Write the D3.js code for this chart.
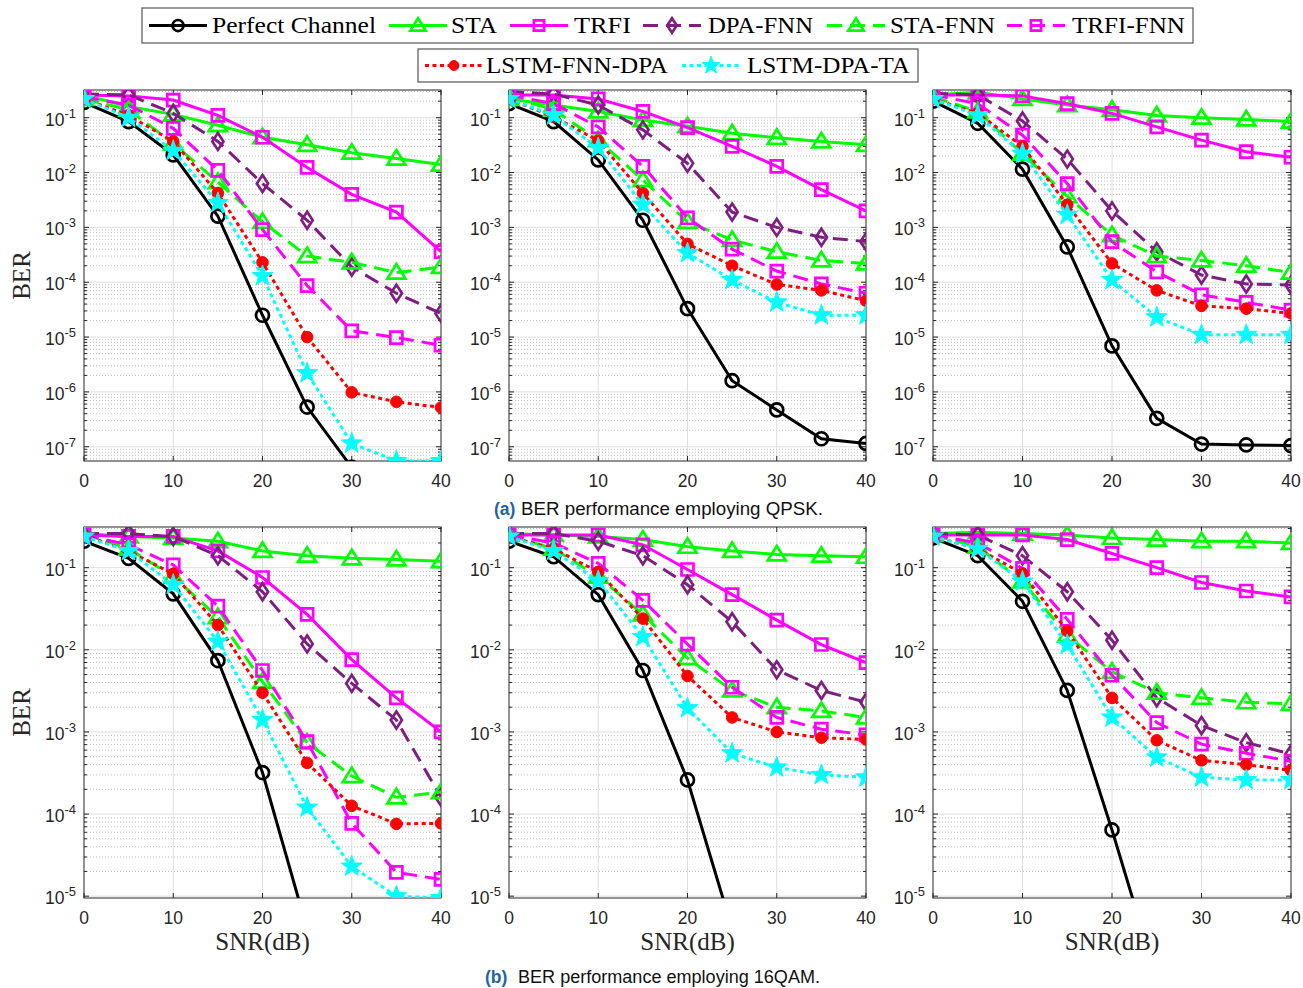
<!DOCTYPE html>
<html>
<head>
<meta charset="utf-8">
<script src="https://cdn.jsdelivr.net/npm/d3@7"></script>
<style>
  body { margin: 0; background: #fff; }
</style>
</head>
<body>
<div id="main"></div>
<script>
// SNR axis values (dB)
const snr = [0, 5, 10, 15, 20, 25, 30, 35, 40];
const xTicks = [0, 10, 20, 30, 40];

// series in legend order
const seriesNames = ['Perfect Channel', 'STA', 'TRFI', 'DPA-FNN', 'STA-FNN', 'TRFI-FNN', 'LSTM-FNN-DPA', 'LSTM-DPA-TA'];

// BER values, one row per series (same order as seriesNames), null = off the chart
const qpskBer1 = [
  [0.19, 0.085, 0.021, 1.6e-3, 2.5e-5, 5.3e-7, 4.2e-8, null, null],
  [0.26, 0.16, 0.115, 0.073, 0.044, 0.032, 0.023, 0.018, 0.014],
  [0.26, 0.25, 0.21, 0.11, 0.044, 0.0124, 0.004, 0.0019, 3.6e-4],
  [0.27, 0.26, 0.12, 0.037, 6.3e-3, 1.35e-3, 1.9e-4, 6.3e-5, 2.7e-5],
  [0.22, 0.14, 0.034, 6.7e-3, 1.26e-3, 3.0e-4, 2.3e-4, 1.5e-4, 1.9e-4],
  [0.24, 0.17, 0.064, 0.011, 9.1e-4, 8.7e-5, 1.3e-5, 9.8e-6, 7.1e-6],
  [0.22, 0.11, 0.037, 4.2e-3, 2.3e-4, 1.0e-5, 9.8e-7, 6.6e-7, 5.2e-7],
  [0.22, 0.10, 0.025, 2.8e-3, 1.3e-4, 2.2e-6, 1.15e-7, 5.5e-8, 5.5e-8]
];
const qpskBer2 = [
  [0.18, 0.085, 0.017, 1.35e-3, 3.3e-5, 1.6e-6, 4.7e-7, 1.4e-7, 1.15e-7],
  [0.22, 0.17, 0.13, 0.091, 0.07, 0.052, 0.043, 0.037, 0.032],
  [0.26, 0.26, 0.22, 0.13, 0.066, 0.030, 0.013, 4.9e-3, 2.0e-3],
  [0.30, 0.27, 0.17, 0.06, 0.0147, 1.9e-3, 1.0e-3, 6.6e-4, 5.5e-4],
  [0.24, 0.14, 0.039, 7.3e-3, 1.26e-3, 5.9e-4, 3.6e-4, 2.5e-4, 2.2e-4],
  [0.26, 0.18, 0.068, 0.013, 1.5e-3, 4.0e-4, 1.6e-4, 9.3e-5, 6.3e-5],
  [0.22, 0.104, 0.038, 4.2e-3, 5.0e-4, 2.0e-4, 9.1e-5, 7.1e-5, 4.6e-5],
  [0.22, 0.11, 0.028, 2.6e-3, 3.4e-4, 1.1e-4, 4.3e-5, 2.5e-5, 2.5e-5]
];
const qpskBer3 = [
  [0.2, 0.079, 0.0115, 4.4e-4, 6.9e-6, 3.3e-7, 1.12e-7, 1.08e-7, 1.05e-7],
  [0.26, 0.29, 0.22, 0.17, 0.14, 0.11, 0.10, 0.093, 0.085],
  [0.26, 0.26, 0.25, 0.18, 0.12, 0.068, 0.039, 0.024, 0.019],
  [0.28, 0.26, 0.087, 0.0176, 2.0e-3, 3.6e-4, 1.35e-4, 9.3e-5, 8.9e-5],
  [0.24, 0.13, 0.022, 3.7e-3, 7.2e-4, 3.0e-4, 2.5e-4, 2.0e-4, 1.5e-4],
  [0.26, 0.18, 0.048, 6.3e-3, 5.5e-4, 1.55e-4, 5.9e-5, 4.3e-5, 3.1e-5],
  [0.22, 0.12, 0.030, 2.6e-3, 2.2e-4, 7.1e-5, 3.7e-5, 3.3e-5, 2.7e-5],
  [0.22, 0.11, 0.022, 1.7e-3, 1.1e-4, 2.3e-5, 1.1e-5, 1.1e-5, 1.1e-5]
];
const qamBer1 = [
  [0.21, 0.13, 0.048, 7.4e-3, 3.2e-4, 4e-6, null, null, null],
  [0.26, 0.24, 0.23, 0.21, 0.16, 0.14, 0.13, 0.126, 0.12],
  [0.25, 0.24, 0.24, 0.16, 0.076, 0.027, 7.6e-3, 2.6e-3, 1.0e-3],
  [0.26, 0.26, 0.24, 0.14, 0.051, 0.0118, 3.9e-3, 1.4e-3, 1.6e-4],
  [0.26, 0.17, 0.078, 0.025, 4.1e-3, 7.4e-4, 2.9e-4, 1.6e-4, 1.85e-4],
  [0.25, 0.19, 0.108, 0.034, 5.6e-3, 7.6e-4, 7.7e-5, 1.95e-5, 1.6e-5],
  [0.25, 0.16, 0.084, 0.020, 3.0e-3, 4.2e-4, 1.26e-4, 7.6e-5, 7.7e-5],
  [0.24, 0.16, 0.062, 0.0126, 1.4e-3, 1.2e-4, 2.3e-5, 1.0e-5, 9.5e-6]
];
const qamBer2 = [
  [0.21, 0.136, 0.047, 5.6e-3, 2.6e-4, 4e-6, null, null, null],
  [0.26, 0.25, 0.24, 0.22, 0.18, 0.16, 0.145, 0.14, 0.136],
  [0.25, 0.25, 0.25, 0.19, 0.095, 0.047, 0.023, 0.0116, 7.0e-3],
  [0.26, 0.26, 0.21, 0.14, 0.062, 0.022, 5.7e-3, 3.2e-3, 2.3e-3],
  [0.25, 0.17, 0.078, 0.027, 7.9e-3, 3.2e-3, 2.0e-3, 1.8e-3, 1.5e-3],
  [0.25, 0.2, 0.113, 0.040, 0.0117, 3.5e-3, 1.5e-3, 1.08e-3, 9.2e-4],
  [0.24, 0.17, 0.089, 0.024, 4.8e-3, 1.5e-3, 1.0e-3, 8.5e-4, 8.1e-4],
  [0.24, 0.16, 0.069, 0.0144, 1.95e-3, 5.5e-4, 3.7e-4, 3.0e-4, 2.8e-4]
];
const qamBer3 = [
  [0.23, 0.14, 0.039, 3.2e-3, 6.4e-5, 1e-6, null, null, null],
  [0.26, 0.27, 0.26, 0.25, 0.23, 0.22, 0.21, 0.21, 0.20],
  [0.25, 0.25, 0.25, 0.22, 0.149, 0.10, 0.066, 0.052, 0.044],
  [0.26, 0.25, 0.14, 0.051, 0.0131, 2.6e-3, 1.2e-3, 7.4e-4, 5.4e-4],
  [0.25, 0.18, 0.068, 0.015, 5.4e-3, 3.0e-3, 2.6e-3, 2.3e-3, 2.2e-3],
  [0.25, 0.2, 0.098, 0.0235, 4.9e-3, 1.3e-3, 7.1e-4, 5.5e-4, 4.4e-4],
  [0.24, 0.17, 0.085, 0.017, 2.6e-3, 7.9e-4, 4.5e-4, 4.0e-4, 3.4e-4],
  [0.24, 0.17, 0.068, 0.0115, 1.5e-3, 4.9e-4, 2.8e-4, 2.6e-4, 2.6e-4]
];

// series styles
const seriesColor = ['#000000', '#00ff00', '#ff00ff', '#7e1e80', '#00ff00', '#ff00ff', '#ff0000', '#00ffff'];
const seriesMarker = ['o', '^', 's', 'd', '^', 's', '.', 'p'];
const seriesDash = [null, null, null, '15,8', '15,8', '15,8', '4,3.5', '4,3.5'];

const axisColor = '#262626';
const serif = '"Liberation Serif", "Times New Roman", serif';
const sans = '"Liberation Sans", Arial, sans-serif';

const svg = d3.select('#main').append('svg')
  .attr('width', 1303)
  .attr('height', 988)
  .style('display', 'block');

// marker outline centred on the point
function markerPath(type, s) {
  if (type === 'o' || type === '.') {
    const r = (type === 'o' ? 6.5 : 5.8) * s;
    return `M${r},0A${r},${r} 0 1,1 ${-r},0A${r},${r} 0 1,1 ${r},0Z`;
  }
  if (type === '^') return `M0,${-8.5 * s}L${9 * s},${6 * s}L${-9 * s},${6 * s}Z`;
  if (type === 's') return `M${-6 * s},${-6 * s}h${12 * s}v${12 * s}h${-12 * s}Z`;
  if (type === 'd') return `M0,${-8.5 * s}L${5.6 * s},0L0,${8.5 * s}L${-5.6 * s},0Z`;
  // pentagram
  const pts = [];
  for (let i = 0; i < 10; i++) {
    const rad = (i % 2 === 0 ? 11 : 4.4) * s;
    const a = -Math.PI / 2 + i * Math.PI / 5;
    pts.push([rad * Math.cos(a), rad * Math.sin(a)]);
  }
  return 'M' + pts.map(p => p.join(',')).join('L') + 'Z';
}

function styleMarker(sel, i) {
  const filled = seriesMarker[i] === '.' || seriesMarker[i] === 'p';
  sel.attr('fill', filled ? seriesColor[i] : 'none')
    .attr('stroke', seriesColor[i])
    .attr('stroke-width', filled ? 1 : 2.7)
    .attr('stroke-linejoin', 'miter');
}

// one subplot
function drawPanel(id, data, xr, yr, yDomain) {
  const x = d3.scaleLinear().domain([0, 40]).range(xr);
  const y = d3.scaleLog().domain(yDomain).range([yr[1], yr[0]]);
  const g = svg.append('g');

  g.append('clipPath').attr('id', id)
    .append('rect')
    .attr('x', xr[0]).attr('y', yr[0])
    .attr('width', xr[1] - xr[0]).attr('height', yr[1] - yr[0]);

  const lo = Math.floor(Math.log10(yDomain[0]));
  const hi = Math.ceil(Math.log10(yDomain[1]));
  const decades = d3.range(lo, hi + 1).map(k => Math.pow(10, k)).filter(v => v >= yDomain[0] && v <= yDomain[1]);
  const minors = [];
  d3.range(lo, hi).forEach(k => {
    for (let m = 2; m <= 9; m++) {
      const v = m * Math.pow(10, k);
      if (v >= yDomain[0] && v <= yDomain[1]) minors.push(v);
    }
  });

  // minor grid (dotted)
  g.append('g').selectAll('line').data(minors).join('line')
    .attr('x1', xr[0]).attr('x2', xr[1])
    .attr('y1', d => y(d)).attr('y2', d => y(d))
    .attr('stroke', '#c0c0c0').attr('stroke-width', 1)
    .attr('stroke-dasharray', '1,2');
  // major grid
  g.append('g').selectAll('line').data(decades).join('line')
    .attr('x1', xr[0]).attr('x2', xr[1])
    .attr('y1', d => y(d)).attr('y2', d => y(d))
    .attr('stroke', '#dedede').attr('stroke-width', 1);
  g.append('g').selectAll('line').data(xTicks.slice(1, -1)).join('line')
    .attr('x1', d => x(d)).attr('x2', d => x(d))
    .attr('y1', yr[0]).attr('y2', yr[1])
    .attr('stroke', '#dedede').attr('stroke-width', 1);

  // axes box + inner ticks
  const axes = g.append('g').attr('stroke', axisColor).attr('stroke-width', 1);
  axes.append('rect')
    .attr('x', xr[0]).attr('y', yr[0])
    .attr('width', xr[1] - xr[0]).attr('height', yr[1] - yr[0])
    .attr('fill', 'none');
  xTicks.forEach(t => {
    axes.append('line').attr('x1', x(t)).attr('x2', x(t)).attr('y1', yr[1]).attr('y2', yr[1] - 5);
    axes.append('line').attr('x1', x(t)).attr('x2', x(t)).attr('y1', yr[0]).attr('y2', yr[0] + 5);
  });
  decades.forEach(v => {
    axes.append('line').attr('x1', xr[0]).attr('x2', xr[0] + 5).attr('y1', y(v)).attr('y2', y(v));
    axes.append('line').attr('x1', xr[1]).attr('x2', xr[1] - 5).attr('y1', y(v)).attr('y2', y(v));
  });
  minors.forEach(v => {
    axes.append('line').attr('x1', xr[0]).attr('x2', xr[0] + 3).attr('y1', y(v)).attr('y2', y(v));
    axes.append('line').attr('x1', xr[1]).attr('x2', xr[1] - 3).attr('y1', y(v)).attr('y2', y(v));
  });

  // tick labels
  g.append('g').selectAll('text').data(xTicks).join('text')
    .attr('x', d => x(d)).attr('y', yr[1] + 26)
    .attr('text-anchor', 'middle')
    .attr('font-family', sans).attr('font-size', 17.5)
    .attr('fill', axisColor)
    .text(d => d);
  const yl = g.append('g').selectAll('text').data(decades).join('text')
    .attr('x', xr[0] - 8).attr('y', d => y(d) + 8)
    .attr('text-anchor', 'end')
    .attr('font-family', sans).attr('font-size', 17.5)
    .attr('fill', axisColor);
  yl.append('tspan').text('10');
  yl.append('tspan').attr('dy', -8).attr('font-size', 13)
    .text(d => '-' + Math.round(-Math.log10(d)));

  // series
  const plot = g.append('g').attr('clip-path', `url(#${id})`);
  const line = d3.line()
    .defined(d => d[1] != null)
    .x(d => x(d[0]))
    .y(d => y(d[1]));
  data.forEach((vals, i) => {
    const pts = snr.map((s, j) => [s, vals[j]]);
    plot.append('path')
      .attr('d', line(pts))
      .attr('fill', 'none')
      .attr('stroke', seriesColor[i])
      .attr('stroke-width', 3)
      .attr('stroke-dasharray', seriesDash[i]);
    plot.append('g').selectAll('path')
      .data(pts.filter(d => d[1] != null))
      .join('path')
      .attr('transform', d => `translate(${x(d[0])},${y(d[1])})`)
      .attr('d', markerPath(seriesMarker[i], 1))
      .call(styleMarker, i);
  });
}

const cols = [[84, 441], [509, 866], [933, 1291]];
const topRow = [90, 461];
const botRow = [527, 898];
const topDomain = [5.5e-8, 0.32];
const botDomain = [9.5e-6, 0.313];

[qpskBer1, qpskBer2, qpskBer3].forEach((d, c) => drawPanel(`clipA${c}`, d, cols[c], topRow, topDomain));
[qamBer1, qamBer2, qamBer3].forEach((d, c) => drawPanel(`clipB${c}`, d, cols[c], botRow, botDomain));

// axis titles
[topRow, botRow].forEach(r => {
  svg.append('text')
    .attr('transform', `translate(30,${(r[0] + r[1]) / 2}) rotate(-90)`)
    .attr('text-anchor', 'middle')
    .attr('font-family', serif).attr('font-size', 25)
    .attr('fill', axisColor)
    .text('BER');
});
cols.forEach(c => {
  svg.append('text')
    .attr('x', (c[0] + c[1]) / 2).attr('y', 950)
    .attr('text-anchor', 'middle')
    .attr('font-family', serif).attr('font-size', 25)
    .attr('fill', axisColor)
    .text('SNR(dB)');
});

// sub-captions
function caption(tag, txt, xTag, xTxt, yb) {
  svg.append('text')
    .attr('x', xTag).attr('y', yb)
    .attr('font-family', sans).attr('font-size', 17.5).attr('font-weight', 'bold')
    .attr('fill', '#1f64a6')
    .text(tag);
  svg.append('text')
    .attr('x', xTxt).attr('y', yb)
    .attr('font-family', sans).attr('font-size', 17.5)
    .attr('textLength', 302).attr('lengthAdjust', 'spacingAndGlyphs')
    .attr('fill', '#111')
    .text(txt);
}
caption('(a)', 'BER performance employing QPSK.', 494, 521, 515);
caption('(b)', 'BER performance employing 16QAM.', 485, 518, 983);

// legend layout: [series index, line start, text start, text width]
const legendBoxes = [
  { x: 142, y: 8, w: 1051, h: 35, cy: 25.5, items: [[0, 149, 212, 164], [1, 389, 451, 46], [2, 510, 574, 57], [3, 643, 708, 105], [4, 827, 890, 105], [5, 1007, 1072, 113]] },
  { x: 418, y: 49, w: 500, h: 33, cy: 65.5, items: [[6, 425, 486, 182], [7, 682, 747, 163]] }
];
legendBoxes.forEach(b => {
  const lg = svg.append('g');
  lg.append('rect')
    .attr('x', b.x).attr('y', b.y).attr('width', b.w).attr('height', b.h)
    .attr('fill', '#fff').attr('stroke', '#555').attr('stroke-width', 1.2);
  b.items.forEach(([i, lx, tx, tw]) => {
    lg.append('line')
      .attr('x1', lx).attr('x2', lx + 58)
      .attr('y1', b.cy).attr('y2', b.cy)
      .attr('stroke', seriesColor[i]).attr('stroke-width', 3)
      .attr('stroke-dasharray', seriesDash[i]);
    lg.append('path')
      .attr('transform', `translate(${lx + 29},${b.cy})`)
      .attr('d', markerPath(seriesMarker[i], 0.85))
      .call(styleMarker, i);
    lg.append('text')
      .attr('x', tx).attr('y', b.cy + 7.5)
      .attr('font-family', serif).attr('font-size', 24)
      .attr('textLength', tw).attr('lengthAdjust', 'spacingAndGlyphs')
      .attr('fill', '#000')
      .text(seriesNames[i]);
  });
});
</script>
</body>
</html>
